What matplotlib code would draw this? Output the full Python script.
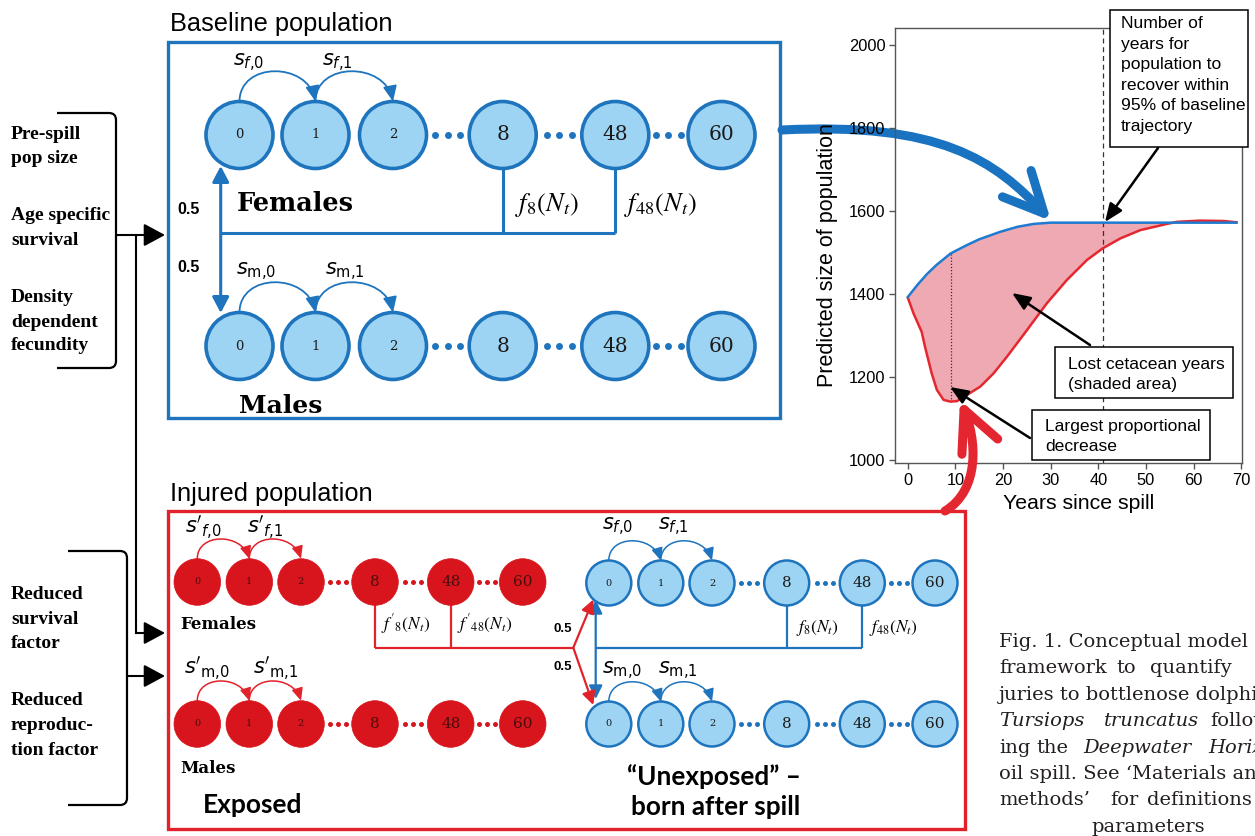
import numpy as np
import matplotlib
matplotlib.use("Agg")
import matplotlib.pyplot as plt
from matplotlib.patches import Circle, Rectangle, FancyArrowPatch, ArrowStyle, PathPatch
from matplotlib.path import Path

# ---------------- data ----------------
years_baseline = [0, 2, 4, 6, 9, 12.4, 15, 19.4, 23, 26.4, 30, 40, 50, 60, 69]
pop_baseline = [1393, 1422, 1448, 1470, 1498, 1518, 1532, 1550, 1562, 1569, 1572, 1572, 1572, 1572, 1572]

years_injured = [0, 1.2, 2.9, 3.6, 5.0, 6.1, 7.5, 8.9, 10.3, 12.4, 15.2, 18, 20.8, 25,
                 29.2, 33.4, 37.6, 40.9, 44.6, 48.8, 54.4, 56.5, 61.4, 66.3, 69]
pop_injured = [1391, 1353, 1309, 1273, 1209, 1169, 1145, 1141, 1142, 1157, 1177, 1209, 1249, 1313,
               1378, 1434, 1482, 1510, 1534, 1554, 1569, 1574, 1577, 1576, 1573]

recovery_year = 41
largest_drop_year = 9

x_ticks = [0, 10, 20, 30, 40, 50, 60, 70]
y_ticks = [1000, 1200, 1400, 1600, 1800, 2000]

age_classes = ["0", "1", "2", "8", "48", "60"]

baseline_inputs = ["Pre-spill", "pop size", "Age specific", "survival",
                   "Density", "dependent", "fecundity"]
injury_inputs = ["Reduced", "survival", "factor", "Reduced", "reproduc-", "tion factor"]

# ---------------- styling ----------------
W, H = 1255, 836
BLUE_EDGE = "#1e74bd"
BLUE_FILL = "#9dd4f3"
RED_FILL = "#d8141c"
RED_LINE = "#e2222b"
CH_BLUE = "#1f7bd0"
CH_RED = "#e5282f"
PINK = "#efa9b2"
SANS = "Liberation Sans"
SERIF = "Liberation Serif"
MATH = dict(math_fontfamily="dejavusans", va="center")

fig = plt.figure(figsize=(W / 100, H / 100), dpi=100)
ax = fig.add_axes([0, 0, 1, 1])
ax.set_xlim(0, W)
ax.set_ylim(H, 0)
ax.axis("off")

ov = fig.add_axes([0, 0, 1, 1], zorder=3)
ov.set_xlim(0, W)
ov.set_ylim(H, 0)
ov.axis("off")


def head(style, hl, hw):
    return ArrowStyle(style, head_length=hl, head_width=hw)


def curve(a, verts, color, lw, style="-|>", hl=9.4, hw=4.0, **kw):
    codes = [Path.MOVETO] + [Path.CURVE4] * (len(verts) - 1)
    p = FancyArrowPatch(path=Path(verts, codes), arrowstyle=head(style, hl, hw),
                        mutation_scale=1, color=color, lw=lw, **kw)
    a.add_patch(p)


def straight(a, p0, p1, color, lw, style="-|>", hl=9.4, hw=4.0, **kw):
    p = FancyArrowPatch(p0, p1, arrowstyle=head(style, hl, hw), mutation_scale=1,
                        color=color, lw=lw, shrinkA=0, shrinkB=0, **kw)
    a.add_patch(p)


def hop(a, x0, x1, ytop, h, color, lw, hl, hw):
    curve(a, [(x0, ytop), (x0, ytop - h), (x1 - 8, ytop - h), (x1, ytop)],
          color, lw, hl=hl, hw=hw)


def age_row(a, xs, y, r, fc, ec, lw, small_fs, big_fs, txt_color, dot_color, dot_ms, dot_gap):
    for lab, x in zip(age_classes, xs):
        a.add_patch(Circle((x, y), r, facecolor=fc, edgecolor=ec, lw=lw, zorder=3))
        fs = small_fs if lab in ("0", "1", "2") else big_fs
        a.text(x, y, lab, ha="center", va="center", fontsize=fs, family="DejaVu Serif",
               color=txt_color, zorder=4)
    for i in (2, 3, 4):
        xm = 0.5 * (xs[i] + r + xs[i + 1] - r)
        a.plot([xm - dot_gap, xm, xm + dot_gap], [y] * 3, "o", ms=dot_ms, color=dot_color,
               mec="none", zorder=3)


# ---------------- baseline population ----------------
ax.text(170, 31, "Baseline population", fontsize=18.3, family=SANS, va="baseline")
ax.add_patch(Rectangle((168, 42), 612, 376, fill=False, ec=BLUE_EDGE, lw=2.4))

bx = [239.5, 315.5, 393, 502.7, 615.3, 721.5]
yf, ym, rb = 135, 346, 33.5
age_row(ax, bx, yf, rb, BLUE_FILL, BLUE_EDGE, 2.6, 9.5, 14.5, "#1a1a1a", BLUE_EDGE, 5, 12.5)
age_row(ax, bx, ym, rb, BLUE_FILL, BLUE_EDGE, 2.6, 9.5, 14.5, "#1a1a1a", BLUE_EDGE, 5, 12.5)

hop(ax, bx[0], bx[1], yf - rb, 40, BLUE_EDGE, 1.3, 9.4, 4.2)
hop(ax, bx[1], bx[2], yf - rb, 40, BLUE_EDGE, 1.3, 9.4, 4.2)
hop(ax, bx[0], bx[1], ym - rb, 40, BLUE_EDGE, 1.3, 9.4, 4.2)
hop(ax, bx[1], bx[2], ym - rb, 40, BLUE_EDGE, 1.3, 9.4, 4.2)

ax.text(233, 63, r"$s_{f{,}0}$", fontsize=15, **MATH)
ax.text(322, 63, r"$s_{f{,}1}$", fontsize=15, **MATH)
ax.text(236, 272, r"$s_{\mathrm{m{,}0}}$", fontsize=15, **MATH)
ax.text(325, 272, r"$s_{\mathrm{m{,}1}}$", fontsize=15, **MATH)

yline = 232.7
for i in (3, 4):
    ax.plot([bx[i], bx[i]], [yf + rb, yline], color=BLUE_EDGE, lw=2.2, solid_capstyle="butt")
ax.plot([220.7, bx[4]], [yline, yline], color=BLUE_EDGE, lw=2.2, solid_capstyle="butt")
straight(ax, (220.7, 313), (220.7, 166), BLUE_EDGE, 2.2, style="<|-|>", hl=9.5, hw=5)
ax.text(515, 205, r"$f_8(N_t)$", fontsize=19, math_fontfamily="stix", va="center")
ax.text(624, 205, r"$f_{48}(N_t)$", fontsize=19, math_fontfamily="stix", va="center")
ax.text(177, 209, "0.5", fontsize=11.5, family=SANS, weight="bold", va="center")
ax.text(177, 267, "0.5", fontsize=11.5, family=SANS, weight="bold", va="center")
ax.text(237, 211, "Females", fontsize=18.4, family="DejaVu Serif", weight="bold", va="baseline")
ax.text(239, 413, "Males", fontsize=18, family="DejaVu Serif", weight="bold", va="baseline")

# ---------------- injured population ----------------
ax.text(170, 501, "Injured population", fontsize=18.3, family=SANS, va="baseline")
ax.add_patch(Rectangle((168, 511), 797, 318, fill=False, ec=RED_LINE, lw=2.4))

# exposed animals
ex = [197.3, 249.3, 301, 375, 450.7, 522.7]
eyf, eym, re = 582, 724, 23.3
age_row(ax, ex, eyf, re, RED_FILL, RED_FILL, 0.5, 7, 11, "#4a0d0d", RED_FILL, 3.6, 8)
age_row(ax, ex, eym, re, RED_FILL, RED_FILL, 0.5, 7, 11, "#4a0d0d", RED_FILL, 3.6, 8)
hop(ax, ex[0], ex[1], eyf - re, 26, RED_LINE, 1.1, 7.5, 3.4)
hop(ax, ex[1], ex[2], eyf - re, 26, RED_LINE, 1.1, 7.5, 3.4)
hop(ax, ex[0], ex[1], eym - re, 26, RED_LINE, 1.1, 7.5, 3.4)
hop(ax, ex[1], ex[2], eym - re, 26, RED_LINE, 1.1, 7.5, 3.4)
ax.text(185, 528, r"$s'_{f{,}0}$", fontsize=15, **MATH)
ax.text(247, 528, r"$s'_{f{,}1}$", fontsize=15, **MATH)
ax.text(184, 669, r"$s'_{\mathrm{m{,}0}}$", fontsize=15, **MATH)
ax.text(253, 669, r"$s'_{\mathrm{m{,}1}}$", fontsize=15, **MATH)

jx, jy = 573.3, 647.7
for i in (3, 4):
    ax.plot([ex[i], ex[i]], [eyf + re, jy], color=RED_LINE, lw=1.6, solid_capstyle="butt")
ax.plot([ex[3], jx], [jy, jy], color=RED_LINE, lw=1.6, solid_capstyle="butt")
ax.text(381, 624, r"$f'_8(N_t)$", fontsize=12.5, math_fontfamily="stix", va="center")
ax.text(457, 624, r"$f'_{48}(N_t)$", fontsize=12.5, math_fontfamily="stix", va="center")
ax.text(553, 629, "0.5", fontsize=9.5, family=SANS, weight="bold", va="center")
ax.text(553, 667, "0.5", fontsize=9.5, family=SANS, weight="bold", va="center")
ax.text(180, 629, "Females", fontsize=12, family="DejaVu Serif", weight="bold", va="baseline")
ax.text(180, 773, "Males", fontsize=12, family="DejaVu Serif", weight="bold", va="baseline")
ax.text(203, 813, "Exposed", fontsize=19, family="Lato", weight="bold", va="baseline")

# animals born after the spill
ux = [608.8, 660.8, 712, 786.7, 862.3, 935]
uyf, uym, ru = 583, 724, 22.5
age_row(ax, ux, uyf, ru, BLUE_FILL, BLUE_EDGE, 1.8, 7, 11, "#1a1a1a", BLUE_EDGE, 3.6, 8)
age_row(ax, ux, uym, ru, BLUE_FILL, BLUE_EDGE, 1.8, 7, 11, "#1a1a1a", BLUE_EDGE, 3.6, 8)
hop(ax, ux[0], ux[1], uyf - ru, 26, BLUE_EDGE, 1.1, 7.5, 3.4)
hop(ax, ux[1], ux[2], uyf - ru, 26, BLUE_EDGE, 1.1, 7.5, 3.4)
hop(ax, ux[0], ux[1], uym - ru, 26, BLUE_EDGE, 1.1, 7.5, 3.4)
hop(ax, ux[1], ux[2], uym - ru, 26, BLUE_EDGE, 1.1, 7.5, 3.4)
ax.text(602, 527, r"$s_{f{,}0}$", fontsize=15, **MATH)
ax.text(658, 527, r"$s_{f{,}1}$", fontsize=15, **MATH)
ax.text(602, 671, r"$s_{\mathrm{m{,}0}}$", fontsize=15, **MATH)
ax.text(658, 671, r"$s_{\mathrm{m{,}1}}$", fontsize=15, **MATH)

for i in (3, 4):
    ax.plot([ux[i], ux[i]], [uyf + ru, jy], color=BLUE_EDGE, lw=1.6, solid_capstyle="butt")
ax.plot([595.7, ux[4]], [jy, jy], color=BLUE_EDGE, lw=1.6, solid_capstyle="butt")
straight(ax, (595.7, 699), (595.7, 600), BLUE_EDGE, 1.6, style="<|-|>", hl=8, hw=4)
ax.text(796, 628, r"$f_8(N_t)$", fontsize=12.5, math_fontfamily="stix", va="center")
ax.text(869, 628, r"$f_{48}(N_t)$", fontsize=12.5, math_fontfamily="stix", va="center")

straight(ax, (jx, jy), (593.3, 599.5), RED_LINE, 1.6, hl=8, hw=4)
straight(ax, (jx, jy), (593.3, 705), RED_LINE, 1.6, hl=8, hw=4)

ax.text(714, 785, "\u201cUnexposed\u201d \u2013", fontsize=18.8, family="Lato", weight="bold",
        ha="center", va="baseline")
ax.text(716, 815, "born after spill", fontsize=18.8, family="Lato", weight="bold",
        ha="center", va="baseline")

# ---------------- model inputs on the left ----------------
for txt, yb in zip(baseline_inputs, [139, 163, 220, 245, 301.7, 326.7, 350]):
    ax.text(11, yb, txt, fontsize=14, family=SERIF, weight="bold", va="baseline")
for txt, yb in zip(injury_inputs, [599, 624, 648, 705, 730, 755]):
    ax.text(11, yb, txt, fontsize=14, family=SERIF, weight="bold", va="baseline")


def bracket(x_left, x_v, y_top, y_bot, r=7):
    verts = [(x_left, y_top), (x_v - r, y_top), (x_v, y_top), (x_v, y_top + r),
             (x_v, y_bot - r), (x_v, y_bot), (x_v - r, y_bot), (x_left, y_bot)]
    codes = [Path.MOVETO, Path.LINETO, Path.CURVE3, Path.CURVE3,
             Path.LINETO, Path.CURVE3, Path.CURVE3, Path.LINETO]
    ax.add_patch(PathPatch(Path(verts, codes), fill=False, ec="black", lw=1.6))


bracket(57, 116, 113, 368)
bracket(68, 127, 551, 805)
straight(ax, (116, 235), (165, 235), "black", 1.5, hl=13, hw=7)
ax.plot([136, 136], [235, 633], color="black", lw=1.5)
straight(ax, (136, 633), (165, 633), "black", 1.5, hl=13, hw=7)
straight(ax, (127, 676), (165, 676), "black", 1.5, hl=13, hw=7)

# ---------------- trajectory chart ----------------
x0, x1, y0, y1 = 895, 1241.7, 28, 463
cx = fig.add_axes([x0 / W, 1 - y1 / H, (x1 - x0) / W, (y1 - y0) / H], zorder=2)
cx.patch.set_alpha(0)
cx.fill(np.r_[years_baseline, years_injured[::-1]], np.r_[pop_baseline, pop_injured[::-1]],
        color=PINK, lw=0, zorder=1)
cx.plot(years_injured, pop_injured, color=CH_RED, lw=1.8, zorder=3)
cx.plot(years_baseline, pop_baseline, color=CH_BLUE, lw=1.8, zorder=4)
cx.vlines(largest_drop_year, min(pop_injured), pop_baseline[years_baseline.index(largest_drop_year)],
          colors="#333333", linestyles=(0, (1, 1.5)), lw=0.9, zorder=2)
cx.axvline(recovery_year, color="#333333", ls=(0, (4, 3)), lw=0.9, zorder=2)
cx.set_xlim(-2.7, 70.1)
cx.set_ylim(993, 2041)
cx.set_xticks(x_ticks)
cx.set_yticks(y_ticks)
for s in cx.spines.values():
    s.set_color("#555555")
    s.set_linewidth(1.0)
cx.tick_params(direction="out", length=4.5, width=1, color="#555555", labelsize=11.8, pad=2.5)
for lab in cx.get_xticklabels() + cx.get_yticklabels():
    lab.set_family(SANS)
cx.set_ylabel("Predicted size of population", fontsize=15.5, family=SANS)
cx.yaxis.set_label_coords(-0.165, 0.478)
cx.set_xlabel("Years since spill", fontsize=15.3, family=SANS)
cx.xaxis.set_label_coords(0.531, -0.072)

# big connector arrows
curve(ax, [(782, 130), (940, 122), (995, 160), (1051, 221)], "#1a73c0", 6.5,
      style="->", hl=29, hw=14, capstyle="round", joinstyle="round")
curve(ov, [(945, 511), (980, 490), (977, 440), (960, 400)], "#e3262f", 6.5,
      style="->", hl=29, hw=14, capstyle="round", joinstyle="round")


# chart call-outs
def callout(xa, ya, xb, yb, lines, tx, ty_first, step=20.5, fs=12.6):
    ov.add_patch(Rectangle((xa, ya), xb - xa, yb - ya, facecolor="white", ec="black", lw=1.1))
    for k, line in enumerate(lines):
        ov.text(tx, ty_first + step * k, line, fontsize=fs, family=SANS, va="center_baseline")


callout(1110, 10, 1248, 147,
        ["Number of", "years for", "population to", "recover within", "95% of baseline",
         "trajectory"], 1121, 22)
callout(1055, 347, 1233, 398, ["Lost cetacean years", "(shaded area)"], 1068, 363, step=20)
callout(1032, 410, 1210, 460, ["Largest proportional", "decrease"], 1045, 425, step=20)
straight(ov, (1158, 148), (1105, 222), "black", 1.8, hl=11, hw=4.5)
straight(ov, (1090, 345), (1012, 293), "black", 1.8, hl=11, hw=4.5)
straight(ov, (1030, 438), (950, 387), "black", 1.8, hl=11, hw=4.5)

# ---------------- caption ----------------
CAP = dict(fontsize=14, family="DejaVu Serif", va="baseline", color="#231f20")
cap_rows = [
    [(999, "Fig. 1. Conceptual model", False)],
    [(999, "framework", False), (1116.7, "to", False), (1150, "quantify", False)],
    [(999, "juries to bottlenose dolphins", False)],
    [(999, "Tursiops", True), (1104, "truncatus", True), (1210, "following", False)],
    [(999, "ing", False), (1036, "the", False), (1083, "Deepwater", True), (1208, "Horizon", True)],
    [(999, "oil spill. See \u2018Materials and", False)],
    [(999, "methods\u2019", False), (1110, "for", False), (1146.7, "definitions", False)],
]
for k, row in enumerate(cap_rows):
    yb = 647 + 26.4 * k
    for xw, word, it in row:
        ax.text(xw, yb, word, style="italic" if it else "normal", **CAP)
ax.text(1148, 647 + 26.4 * 7, "parameters", ha="center", **CAP)

fig.savefig("out.png", dpi=100)
